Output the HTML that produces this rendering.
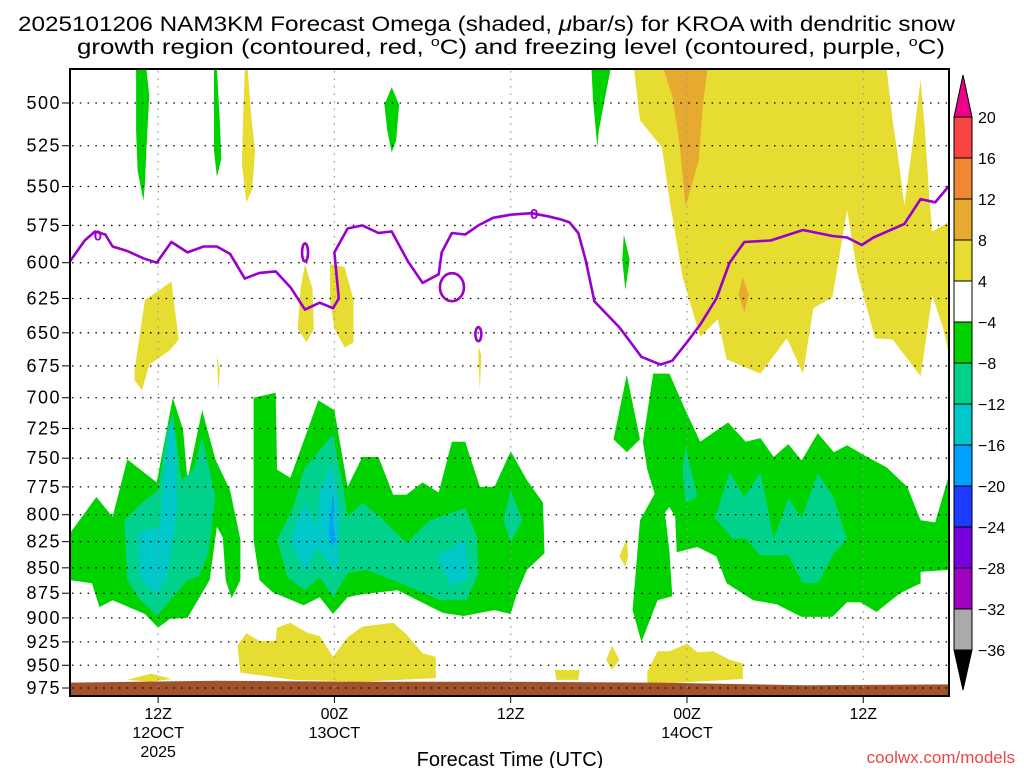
<!DOCTYPE html>
<html><head><meta charset="utf-8"><style>
html,body{margin:0;padding:0;background:#fff;}
svg text{font-family:"Liberation Sans",sans-serif;}
</style></head><body>
<svg id="chart" width="1024" height="768" viewBox="0 0 1024 768" xmlns="http://www.w3.org/2000/svg">
<rect x="0" y="0" width="1024" height="768" fill="#fff"/>
<text x="18" y="31" font-size="21" textLength="937" lengthAdjust="spacingAndGlyphs">2025101206 NAM3KM Forecast Omega (shaded, <tspan font-style="italic">μ</tspan>bar/s) for KROA with dendritic snow</text>
<text x="77" y="54" font-size="21" textLength="868" lengthAdjust="spacingAndGlyphs">growth region (contoured, red, <tspan font-size="13" dy="-8">o</tspan><tspan dy="8">C) and freezing level (contoured, purple, </tspan><tspan font-size="13" dy="-8">o</tspan><tspan dy="8">C)</tspan></text>
<defs><clipPath id="plotclip"><rect x="70" y="69" width="879" height="627"/></clipPath></defs>
<g id="fills" clip-path="url(#plotclip)"></g>
<g id="grid"></g>
<g id="fz" clip-path="url(#plotclip)"></g>
<rect x="70" y="69" width="879" height="627" fill="none" stroke="#000" stroke-width="2"/>
<g id="yaxis"></g>
<g id="xaxis"></g>
<g id="cbar"></g>
<text x="510" y="766" font-size="20" text-anchor="middle">Forecast Time (UTC)</text>
<text x="1015" y="763" font-size="17" text-anchor="end" fill="#ee4444">coolwx.com/models</text>
</svg>
<script>
// ---- data (hour since 06Z 12 Oct, pressure hPa) ----
const pressureTicks = [500,525,550,575,600,625,650,675,700,725,750,775,800,825,850,875,900,925,950,975];
const timeTickHours = [6,18,30,42,54];
const timeTickLabels = [["12Z","12OCT","2025"],["00Z","13OCT"],["12Z"],["00Z","14OCT"],["12Z"]];
const cbarLevels = ["20","16","12","8","4","\u22124","\u22128","\u221212","\u221216","\u221220","\u221224","\u221228","\u221232","\u221236"];
const cbarColors = ["#f84444","#f08832","#e6aa30","#e6dc32","#ffffff","#00d200","#00d28c","#00c8c8","#00a0ff","#1e3cff","#7800dc","#a000c0","#aaaaaa"];
const surfaceHours = [0,10,20,30,40,50,60];
const surfaceP = [969,967,968,968,969,972,971];

const yellowRegions = [
 [[38.4,481.5],[55.6,481.5],[56.0,510],[56.5,540],[56.8,562],[57.3,528],[57.9,487],[58.2,516],[58.5,558],[58.7,579],[59.8,573],[59.8,664],[59.4,645],[58.7,623],[57.9,683],[56.0,655],[54.8,654],[53.6,607],[52.9,565],[51.9,624],[50.6,632],[49.9,681],[48.8,654],[47.0,681],[44.7,670],[44.1,640],[42.9,653],[41.7,610],[40.8,558],[40.3,526],[38.8,510]],
 [[4.4,678],[5.1,626],[6.1,619],[6.9,613],[7.4,655],[6.8,663],[5.4,674],[4.9,694],[4.4,686]],
 [[11.9,481],[12.1,481],[12.3,504],[12.6,528],[12.4,552],[12.0,560],[11.7,536],[11.8,504]],
 [[16.0,601],[16.5,618],[16.6,647],[16.1,657],[15.5,647],[15.7,618]],
 [[17.7,601],[18.7,603],[19.3,626],[19.3,657],[18.7,661],[18.0,647],[17.7,626]],
 [[27.8,660],[28.0,667],[27.9,694],[27.8,670]],
 [[10.0,667],[10.2,678],[10.1,694]],
 [[37.9,822],[38.0,839],[37.8,849],[37.4,839]],
 [[11.4,929],[12.0,916],[12.9,924],[14.0,924],[14.1,910],[15.0,905],[16.1,915],[17.0,919],[17.9,941],[18.9,920],[19.9,909],[22.0,905],[22.9,917],[24.0,937],[24.9,941],[24.9,964],[19.9,968],[15.2,966],[11.6,958]],
 [[39.3,957],[40.0,935],[40.8,935],[42.0,927],[42.7,936],[43.8,935],[44.9,944],[45.8,948],[45.8,965],[39.3,971]],
 [[33.0,955],[34.7,955],[34.6,966],[33.1,966]],
 [[36.5,944],[36.9,929],[37.4,944],[36.9,955]],
 [[3.9,966],[5.5,959],[6.9,965],[5.5,968]]
];
const orangeRegions = [
 [[40.4,481],[43.4,481],[43.1,500],[42.8,534],[41.9,563],[41.5,524],[41.0,496]],
 [[45.8,610],[46.2,622],[45.9,635],[45.5,622]]
];
const greenRegions = [
 [[0,817],[1.8,784],[2.9,802],[3.9,751],[5.9,771],[7.0,700],[7.7,726],[8.0,769],[9.0,710],[9.9,751],[10.9,778],[11.6,823],[11.6,862],[11.0,880],[10.6,862],[10.4,821],[10.0,811],[9.5,862],[8.0,900],[6.8,901],[6.0,910],[5.1,896],[2.9,882],[2.0,889],[1.5,865],[0,862]],
 [[12.5,700],[14.0,696],[14.1,760],[15.0,767],[16.9,702],[18.0,710],[18.9,775],[19.9,749],[21.0,749],[22.0,782],[22.9,782],[24.0,771],[25.1,780],[26.0,736],[26.9,736],[27.9,775],[28.9,775],[30.0,744],[31.1,769],[32.2,789],[32.3,836],[31.1,852],[30.4,876],[30.0,896],[28.9,892],[26.8,898],[25.4,895],[22.3,872],[19.9,876],[18.9,879],[17.9,896],[17.0,879],[15.9,887],[13.8,874],[12.9,862],[12.5,823]],
 [[39.7,681],[40.8,681],[41.9,710],[42.9,736],[44.8,720],[46.0,736],[47.0,733],[47.9,749],[48.9,738],[49.8,752],[50.9,729],[52.0,745],[52.9,739],[54.0,747],[55.6,758],[57.0,775],[57.9,805],[58.9,807],[59.8,766],[59.8,852],[57.9,854],[57.9,865],[56.5,875],[54.9,894],[53.8,884],[52.9,884],[51.9,899],[49.8,899],[48.1,886],[46.5,882],[44.7,865],[44.0,839],[42.7,830],[41.3,835],[41.2,802],[40.8,793],[40.5,798],[40.8,834],[41.0,878],[40.0,882],[38.9,925],[38.3,892],[38.8,805],[39.8,781],[39.3,760],[39.0,736]],
 [[37.9,682],[38.8,734],[37.9,745],[37.0,734]],
 [[4.5,481],[5.2,481],[5.4,496],[5.2,527],[5.1,549],[5.0,559],[4.6,540],[4.5,516]],
 [[9.8,481],[10.0,481],[10.2,510],[10.3,533],[10.0,544],[9.8,528],[9.8,498]],
 [[21.9,491],[22.4,501],[22.2,522],[21.9,529],[21.6,516],[21.4,501]],
 [[35.5,481],[36.8,481],[36.4,498],[36.0,516],[35.9,526],[35.6,498]],
 [[37.7,581],[38.1,598],[37.8,619],[37.6,598]]
];
const tealRegions = [
 [[3.7,805],[4.9,789],[6.0,778],[6.6,726],[7.0,713],[7.6,769],[8.4,760],[9.0,732],[9.9,784],[9.4,836],[8.8,858],[8.0,862],[7.0,879],[5.9,898],[4.8,882],[3.9,862]],
 [[14.1,823],[15.2,793],[15.9,760],[17.2,740],[17.9,730],[18.6,775],[18.9,802],[19.9,789],[21.1,802],[22.9,826],[24.5,805],[26.9,794],[27.7,820],[27.8,855],[27.0,882],[25.2,882],[22.0,862],[20.2,852],[18.9,855],[17.9,879],[17.0,859],[16.0,872],[14.8,859]],
 [[30.0,778],[30.8,805],[30.0,826],[29.5,805]],
 [[41.9,740],[42.7,784],[41.9,789],[41.7,760]],
 [[44.9,762],[45.9,784],[47.0,762],[47.9,822],[48.9,785],[49.8,803],[50.9,763],[52.0,785],[52.9,823],[52.0,836],[50.9,865],[49.9,865],[48.9,838],[47.0,838],[46.0,822],[45.1,822],[43.9,803]]
];
const cyanRegions = [
 [[4.6,817],[5.3,814],[6.1,811],[6.7,728],[7.1,718],[7.3,798],[6.6,860],[5.9,876],[4.8,860]],
 [[15.0,823],[16.0,789],[16.8,811],[17.0,778],[17.8,754],[18.4,798],[18.2,855],[16.8,830],[16.0,854]],
 [[25.0,839],[26.9,823],[27.1,860],[25.9,868]]
];
const blueRegions = [
 [[17.9,780],[18.0,793],[17.9,807],[18.1,823],[17.9,830],[17.6,817],[17.8,793]]
];
const freezingHours = [0,1.0,1.7,2.4,2.9,3.9,5.0,5.9,6.9,8.0,9.1,10.0,10.9,11.9,12.9,14.0,15.0,16.0,17.0,17.9,18.3,18.0,18.9,19.9,21.0,21.9,23.0,24.0,25.1,25.3,26.0,26.9,27.8,28.8,30.0,31.4,32.5,33.4,34.0,34.6,35.1,35.7,37.4,38.9,40.2,41.0,42.0,42.9,44.0,44.9,45.9,47.7,49.9,51.9,52.9,53.9,54.7,56.8,57.9,58.9,59.8];
const freezingP = [599,585,579,581,589,592,597,600,586,593,589,589,594,611,607,606,617,633,628,632,625,593,577,575,580,579,599,614,608,593,580,581,575,570,568,567,569,571,573,580,598,627,646,668,674,671,657,644,625,600,586,585,578,582,583,588,583,574,558,560,550];
const freezingLoops = [[16.0,593,3,9],[26.0,617,12,14],[27.8,651,3,7]];
const freezingLabels = [[1.9,581],[31.6,567]];

// ---- axes ----
const X0=70, XS=14.69, Y0=103, YK=876;
function xs(h){return X0+h*XS;}
function ys(p){return Y0+YK*Math.log(p/500);}
const NS="http://www.w3.org/2000/svg";
function mk(tag,attrs,parent){const e=document.createElementNS(NS,tag);for(const k in attrs)e.setAttribute(k,attrs[k]);parent.appendChild(e);return e;}
const fills=document.getElementById('fills');
function drawRegions(list,color,name){
 list.forEach(function(poly,i){
  const pts=poly.map(function(d){return xs(d[0]).toFixed(1)+","+ys(d[1]).toFixed(1);}).join(" ");
  const e=mk('polygon',{points:pts,fill:color},fills);
  
  
 });
}
drawRegions(yellowRegions,"#e6dc32","omega-4-8-region");
drawRegions(orangeRegions,"#e6aa30","omega-8-12-region");
drawRegions(greenRegions,"#00d200","omega-neg4-neg8-region");
drawRegions(tealRegions,"#00d28c","omega-neg8-neg12-region");
drawRegions(cyanRegions,"#00c8c8","omega-neg12-neg16-region");
drawRegions(blueRegions,"#00a0ff","omega-neg16-neg20-region");
// ground
let gp="";
surfaceHours.forEach(function(h,i){gp+=(i?" L":"M")+xs(h).toFixed(1)+","+ys(surfaceP[i]).toFixed(1);});
gp+=" L"+xs(60)+",700 L"+xs(0)+",700 Z";
const ground=mk('path',{d:gp,fill:"#a0522d"},fills);



// grid
const grid=document.getElementById('grid');
pressureTicks.forEach(function(p){
 const l=mk('line',{x1:72,x2:947,y1:ys(p),y2:ys(p),stroke:"#000","stroke-width":1.3,"stroke-dasharray":"1.5 6.3"},grid);
 
 
});
timeTickHours.forEach(function(h){
 const l=mk('line',{x1:xs(h),x2:xs(h),y1:71,y2:694,stroke:"#999","stroke-width":1.2,"stroke-dasharray":"1.5 6"},grid);
 
 
});

// freezing line
const fz=document.getElementById('fz');
let fd="";
freezingHours.forEach(function(h,i){fd+=(i?" L":"M")+xs(h).toFixed(1)+","+ys(freezingP[i]).toFixed(1);});
const fl=mk('path',{d:fd,fill:"none",stroke:"#9900cc","stroke-width":2.6,"stroke-linejoin":"round"},fz);


freezingLoops.forEach(function(c){
 const e=mk('ellipse',{cx:xs(c[0]),cy:ys(c[1]),rx:c[2],ry:c[3],fill:"none",stroke:"#9900cc","stroke-width":2.6},fz);
 
 
});
freezingLabels.forEach(function(c){
 const t=mk('text',{x:xs(c[0]),y:ys(c[1])+6,"font-size":15,"font-weight":"bold",fill:"#9900cc","text-anchor":"middle"},fz);
 t.textContent="0";
 
 
});

// y axis
const ya=document.getElementById('yaxis');
pressureTicks.forEach(function(p){
 const t=mk('text',{x:61,y:ys(p)+6,"font-size":18,"text-anchor":"end","letter-spacing":"1.5"},ya);
 t.textContent=String(p);
 
 
 const tk=mk('line',{x1:62,x2:70,y1:ys(p),y2:ys(p),stroke:"#000","stroke-width":1},ya);
 
 
});
// x axis
const xa=document.getElementById('xaxis');
timeTickHours.forEach(function(h,i){
 const tk=mk('line',{x1:xs(h),x2:xs(h),y1:696,y2:703,stroke:"#000","stroke-width":1},xa);
 
 
 timeTickLabels[i].forEach(function(s,j){
  const t=mk('text',{x:xs(h),y:719+j*19,"font-size":16,"text-anchor":"middle"},xa);
  t.textContent=s;
  
  
 });
});

// colorbar
const cb=document.getElementById('cbar');
const CBX=954, CBW=18, CBT=117, CBS=41;
const up=mk('polygon',{points:CBX+","+CBT+" "+(CBX+CBW)+","+CBT+" "+(CBX+CBW/2)+",75",fill:"#ee0088",stroke:"#000","stroke-width":1},cb);


cbarColors.forEach(function(c,i){
 const r=mk('rect',{x:CBX,y:CBT+i*CBS,width:CBW,height:CBS,fill:c,stroke:"#000","stroke-width":1},cb);
 
 
});
const yb=CBT+cbarColors.length*CBS;
const dn=mk('polygon',{points:CBX+","+yb+" "+(CBX+CBW)+","+yb+" "+(CBX+CBW/2)+","+(yb+40),fill:"#000",stroke:"#000","stroke-width":1},cb);


cbarLevels.forEach(function(s,i){
 const t=mk('text',{x:978,y:CBT+i*CBS+6,"font-size":16},cb);
 t.textContent=s;
 
 
});
</script>
</body></html>
